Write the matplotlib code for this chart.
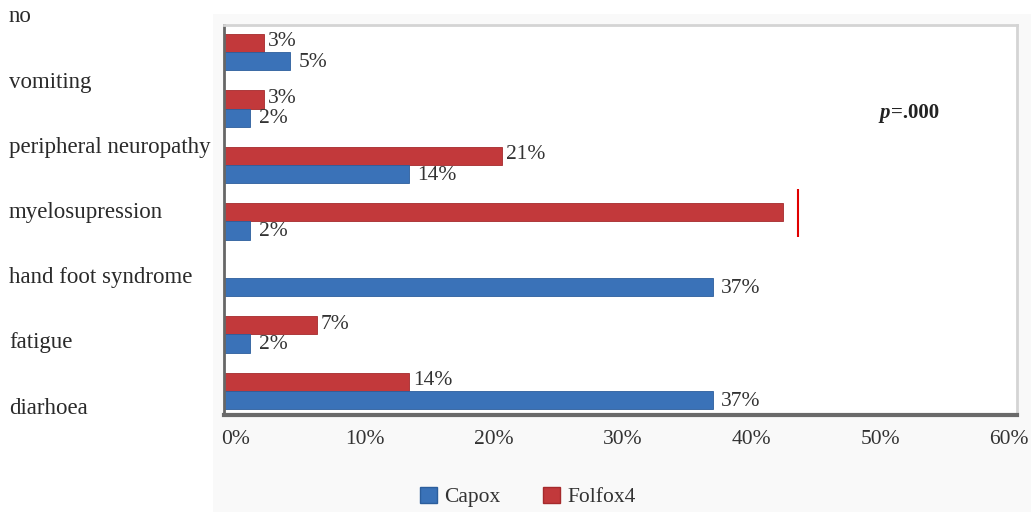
import matplotlib
matplotlib.use("Agg")
import matplotlib.pyplot as plt
from matplotlib.patches import Rectangle, Patch
from matplotlib.transforms import ScaledTranslation
import numpy as np

categories = ["no", "vomiting", "peripheral neuropathy", "myelosupression",
              "hand foot syndrome", "fatigue", "diarhoea"]
capox = [5, 2, 14, 2, 37, 2, 37]
folfox4 = [3, 3, 21, 42.3, 0, 7, 14]
capox_labels = ["5%", "2%", "14%", "2%", "37%", "2%", "37%"]
folfox_labels = ["3%", "3%", "21%", "", "", "7%", "14%"]
xticks = [0, 10, 20, 30, 40, 50, 60]
xtick_labels = ["0%", "10%", "20%", "30%", "40%", "50%", "60%"]

plt.rcParams['font.family'] = ['Liberation Serif', 'DejaVu Serif']

W, H = 1031, 512
fig = plt.figure(figsize=(W / 100, H / 100), dpi=100)
fig.patch.set_facecolor("white")

# faint panel behind chart
fig.patches.append(Rectangle((213 / W, 0), 1 - 213 / W, 1 - 14 / H,
                             transform=fig.transFigure, facecolor="#f9f9f9",
                             edgecolor="none", zorder=-5))

ax = fig.add_axes([224 / W, 1 - 415 / H, (1017 - 224) / W, (415 - 25) / H])
ax.set_facecolor("white")

blue = "#3a72b8"
red = "#c2393b"
n = len(categories)
y = np.arange(n)[::-1]  # first category at top
bh = 0.32

ax.barh(y + bh / 2, folfox4, height=bh, color=red, edgecolor="#a52a2c", linewidth=0.6)
ax.barh(y - bh / 2, capox, height=bh, color=blue, edgecolor="#2c5e9c", linewidth=0.6)

vfs = 15.5
for yi, v, lab in zip(y, folfox4, folfox_labels):
    if lab:
        ax.annotate(lab, (v, yi + bh / 2), xytext=(3, 1), textcoords="offset points",
                    ha="left", va="center", fontsize=vfs, color="#333333")
for yi, v, lab in zip(y, capox, capox_labels):
    ax.annotate(lab, (v, yi - bh / 2), xytext=(6, -1), textcoords="offset points",
                ha="left", va="center", fontsize=vfs, color="#333333")

# red marker line next to myelosupression bar
mi = categories.index("myelosupression")
ax.plot([folfox4[mi] + 1.1] * 2, [y[mi] - 0.28, y[mi] + 0.57], color="#e00000",
        linewidth=1.5, solid_capstyle="butt")

ax.set_xlim(0, 60)
ax.set_ylim(-0.425, n - 1 + 0.478)
ax.set_xticks(xticks)
ax.set_xticklabels(xtick_labels, fontsize=15.5, color="#333333")
ax.tick_params(axis="x", length=0, pad=11)
ax.set_yticks([])
# reference tick labels sit on a slightly compressed spacing
nt = len(xticks)
for i, lab in enumerate(ax.get_xticklabels()):
    dx = (12 - 20 * i / (nt - 1)) / 100.0
    lab.set_transform(lab.get_transform() + ScaledTranslation(dx, 0, fig.dpi_scale_trans))

for s in ["top", "right"]:
    ax.spines[s].set_color("#d4d4d4")
    ax.spines[s].set_linewidth(2)
ax.spines["left"].set_color("#666666")
ax.spines["left"].set_linewidth(2)
ax.spines["bottom"].set_color("#6a6a6a")
ax.spines["bottom"].set_linewidth(3)

# category labels on the left
top_px, bot_px = 17, 408
for i, cat in enumerate(categories):
    ypx = top_px + i * (bot_px - top_px) / (n - 1)
    fig.text(9 / W, 1 - ypx / H, cat, ha="left", va="center", fontsize=16.5,
             color="#2a2a2a")

# p-value annotation
t1 = ax.text(0.827, 0.774, "p", transform=ax.transAxes, fontsize=15,
             style="italic", fontweight="bold", ha="left", va="center", color="#222222")
ax.annotate("=.000", xy=(1, 0.5), xycoords=t1, xytext=(0.5, 0),
            textcoords="offset points", ha="left", va="center", fontsize=15,
            fontweight="bold", color="#222222")

handles = [Patch(facecolor=blue, edgecolor="#2c5e9c"),
           Patch(facecolor=red, edgecolor="#a52a2c")]
fig.legend(handles, ["Capox", "Folfox4"], loc="center",
           bbox_to_anchor=(528 / W, 1 - 497 / H), ncol=2, frameon=False,
           fontsize=15.5, handlelength=0.75, handleheight=0.75, handletextpad=0.35,
           columnspacing=2.0, labelcolor="#333333")

fig.savefig("out.png", dpi=100, facecolor=fig.get_facecolor())
